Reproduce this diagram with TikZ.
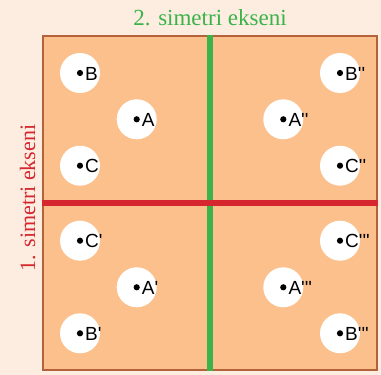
\documentclass[tikz,border=0pt]{standalone}
\usepackage{fontspec}
\newfontfamily\labelfont{Liberation Sans}
\newfontfamily\captionfont{Liberation Serif}
\usetikzlibrary{calc}
\definecolor{pagebg}{HTML}{FCEDE0}
\definecolor{panel}{HTML}{FBC08B}
\definecolor{frame}{HTML}{B4623A}
\definecolor{axisgreen}{HTML}{3AB34A}
\definecolor{axisred}{HTML}{D62730}
\begin{document}
\begin{tikzpicture}[x=1pt,y=-1pt,
  spot/.style={circle,fill=white,minimum size=40pt,inner sep=0pt},
  blackdot/.style={circle,fill=black,minimum size=6.2pt,inner sep=0pt},
  pointlabel/.style={anchor=base west,inner sep=0pt,
    font=\labelfont\fontsize{19}{19}\selectfont},
  axiscaption/.style={anchor=base,inner sep=0pt,
    font=\captionfont\fontsize{23}{23}\selectfont}]
% page background and fixed extent
\fill[pagebg] (0,0) rectangle (381,375);
\useasboundingbox (0,0) rectangle (381,375);
% the square board
\node[draw=frame,fill=panel,line width=2pt,minimum width=334pt,
      minimum height=334pt,inner sep=0pt] (board) at (210,203) {};
% symmetry axes (horizontal one drawn on top)
\draw[axisgreen,line width=5.5pt] (board.north) -- (board.south);
\draw[axisred,line width=6pt] (board.west) -- (board.east);
% axis captions
\node[axiscaption,text=axisgreen] (cap2) at (210,25) {2. simetri ekseni};
\node[axiscaption,text=axisred,rotate=90,
      font=\captionfont\fontsize{22}{22}\selectfont] (cap1) at (35,198) {1. simetri ekseni};
% points with their images
\foreach \nm/\px/\py/\txt in {
    pB/80/73/B, pA/136.7/119.3/A, pC/80/165.7/C,
    pBb/340/73/B'', pAb/283.3/119.3/A'', pCb/340/165.7/C'',
    pCa/80/240.7/C', pAa/136.7/287.3/A', pBa/80/333.3/B',
    pCc/340/240.7/C''', pAc/283.3/287.3/A''', pBc/340/333.3/B'''}{
  \node[spot] (\nm) at (\px,\py) {};
  \node[blackdot] (\nm-dot) at (\nm.center) {};
  \node[pointlabel] (\nm-text) at ($(\nm.center)+(5,7)$) {\txt};
}
\end{tikzpicture}
\end{document}
